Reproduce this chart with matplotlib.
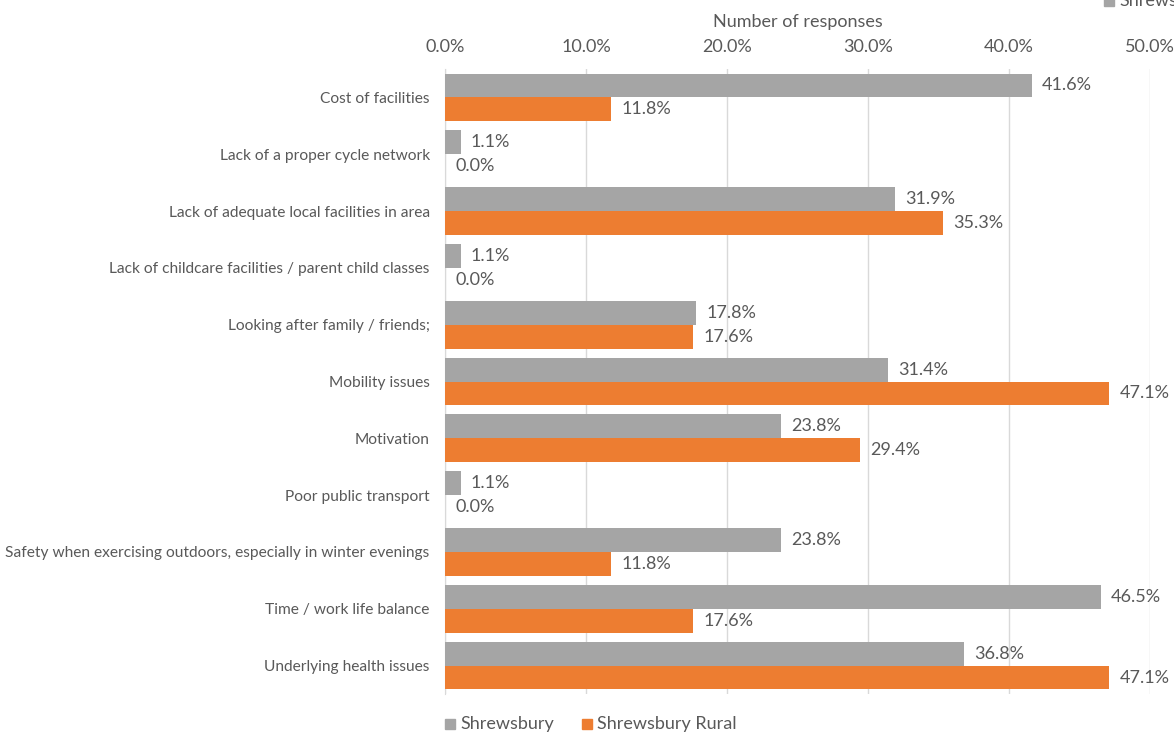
import matplotlib
matplotlib.use("Agg")
import matplotlib.pyplot as plt
import numpy as np
from matplotlib.patches import Rectangle

categories = [
    "Cost of facilities",
    "Lack of a proper cycle network",
    "Lack of adequate local facilities in area",
    "Lack of childcare facilities / parent child classes",
    "Looking after family / friends;",
    "Mobility issues",
    "Motivation",
    "Poor public transport",
    "Safety when exercising outdoors, especially in winter evenings",
    "Time / work life balance",
    "Underlying health issues",
]
shrewsbury = [41.6, 1.1, 31.9, 1.1, 17.8, 31.4, 23.8, 1.1, 23.8, 46.5, 36.8]
shrewsbury_rural = [11.8, 0.0, 35.3, 0.0, 17.6, 47.1, 29.4, 0.0, 11.8, 17.6, 47.1]
series_names = ["Shrewsbury", "Shrewsbury Rural"]
xticks = [0, 10, 20, 30, 40, 50]

GRAY = "#a5a5a5"
ORANGE = "#ed7d31"
TEXT = "#595959"

plt.rcParams['font.family'] = ['Lato', 'DejaVu Sans']

fig = plt.figure(figsize=(11.74, 7.35), dpi=100)
ax = fig.add_axes([445/1174, 1-694/735, (1150-445)/1174, (694-69)/735])

n = len(categories)
y = np.arange(n)
h = 0.42
ax.barh(y - h/2, shrewsbury, height=h, color=GRAY, label=series_names[0], zorder=3)
ax.barh(y + h/2, shrewsbury_rural, height=h, color=ORANGE, label=series_names[1], zorder=3)

for yi, v in zip(y, shrewsbury):
    ax.annotate(f"{v:.1f}%", (v, yi - h/2), xytext=(7.5, 0), textcoords="offset points",
                va="center", ha="left", fontsize=13, color=TEXT, annotation_clip=False)
for yi, v in zip(y, shrewsbury_rural):
    ax.annotate(f"{v:.1f}%", (v, yi + h/2), xytext=(7.5, 0), textcoords="offset points",
                va="center", ha="left", fontsize=13, color=TEXT, annotation_clip=False)

ax.set_ylim(n - 0.5, -0.5)
ax.set_xlim(0, 50)
ax.set_yticks(y)
ax.set_yticklabels(categories, fontsize=11.2, color=TEXT)
ax.set_xticks(xticks)
ax.set_xticklabels([f"{t:.1f}%" for t in xticks], fontsize=13, color=TEXT)
ax.xaxis.tick_top()
ax.xaxis.set_label_position("top")
ax.set_xlabel("Number of responses", fontsize=13, color=TEXT, labelpad=9)
ax.tick_params(axis="y", length=0, pad=11)
ax.tick_params(axis="x", length=0, pad=10)
ax.grid(axis="x", color="#d9d9d9", linewidth=1, zorder=0)
for s in ["top", "right", "bottom"]:
    ax.spines[s].set_visible(False)
ax.spines["left"].set_color("#d9d9d9")

# bottom legend
for name, col, x0 in [(series_names[0], GRAY, 445), (series_names[1], ORANGE, 582)]:
    fig.patches.append(Rectangle((x0/1174, 1-729/735), 10/1174, 10/735,
                                 transform=fig.transFigure, color=col))
    fig.text((x0+15)/1174, 1-724/735, name, fontsize=13, color=TEXT, va="center", ha="left")

# clipped top legend remnant
fig.patches.append(Rectangle((1104/1174, 1-6/735), 10/1174, 10/735,
                             transform=fig.transFigure, color=GRAY))
fig.text(1119/1174, 1-1/735, series_names[0], fontsize=13, color=TEXT, va="center", ha="left")

fig.savefig("out.png", dpi=100)
